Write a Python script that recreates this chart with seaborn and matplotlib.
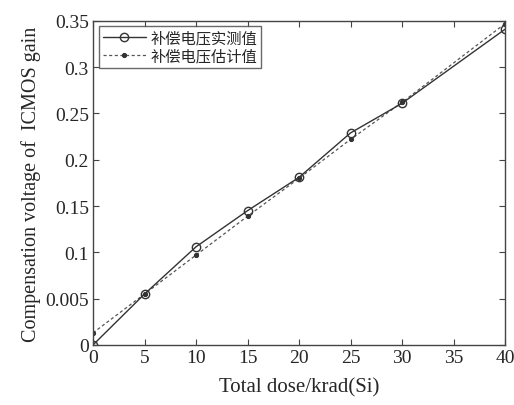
import matplotlib
matplotlib.use("Agg")
import matplotlib.pyplot as plt
import seaborn as sns
import pandas as pd

dose = [0, 5, 10, 15, 20, 25, 30, 40]
measured = [0.0, 0.055, 0.106, 0.145, 0.181, 0.229, 0.261, 0.341]
estimated = [0.013, 0.055, 0.097, 0.139, 0.180, 0.222, 0.262, 0.347]
name_meas = "补偿电压实测值"
name_est = "补偿电压估计值"
yticks = [0, 0.05, 0.1, 0.15, 0.2, 0.25, 0.3, 0.35]
ytick_labels = ["0", "0.005", "0.1", "0.15", "0.2", "0.25", "0.3", "0.35"]
xticks = [0, 5, 10, 15, 20, 25, 30, 35, 40]

sns.set_style("ticks")
plt.rcParams['font.family'] = ['Liberation Serif', 'Noto Sans CJK SC', 'DejaVu Sans']

df_m = pd.DataFrame({"x": dose, "y": measured})
df_e = pd.DataFrame({"x": dose, "y": estimated})

fig = plt.figure(figsize=(5.14, 4.06), dpi=100)
ax = fig.add_axes([0.181, 0.148, 0.8015, 0.798])

sns.lineplot(data=df_e, x="x", y="y", ax=ax, color="#555555", linestyle=(0, (2.5, 2)),
             linewidth=0.9, marker="o", markersize=3, markerfacecolor="#333333",
             markeredgecolor="#333333", label=name_est)
sns.lineplot(data=df_m, x="x", y="y", ax=ax, color="#333333", linewidth=1.0,
             marker="o", markersize=6, markerfacecolor="none",
             markeredgecolor="#333333", markeredgewidth=1.0, label=name_meas)

ax.set_xlim(0, 40)
ax.set_ylim(0, 0.35)
ax.set_xticks(xticks)
ax.set_xticklabels([str(t) for t in xticks])
ax.set_yticks(yticks)
ax.set_yticklabels(ytick_labels)
ax.tick_params(direction="in", top=True, right=True, labelsize=14, length=4,
               color="#444444", pad=3)
for s in ax.spines.values():
    s.set_color("#444444")
    s.set_linewidth(1.0)
ax.set_xlabel("Total dose/krad(Si)", fontsize=15, labelpad=8)
ax.set_ylabel("Compensation voltage of  ICMOS gain", fontsize=14.5, labelpad=3)

handles, labels = ax.get_legend_handles_labels()
order = [labels.index(name_meas), labels.index(name_est)]
leg = ax.legend([handles[i] for i in order], [labels[i] for i in order],
                loc="upper left", bbox_to_anchor=(0.015, 0.985),
                frameon=True, fancybox=False, edgecolor="#444444",
                borderpad=0.25, labelspacing=0.05, handlelength=2.8,
                handletextpad=0.3, borderaxespad=0.0,
                prop={'family': ['Noto Sans CJK SC', 'DejaVu Sans'], 'size': 11})
leg.get_frame().set_linewidth(1.0)

fig.savefig("out.png", dpi=100)
